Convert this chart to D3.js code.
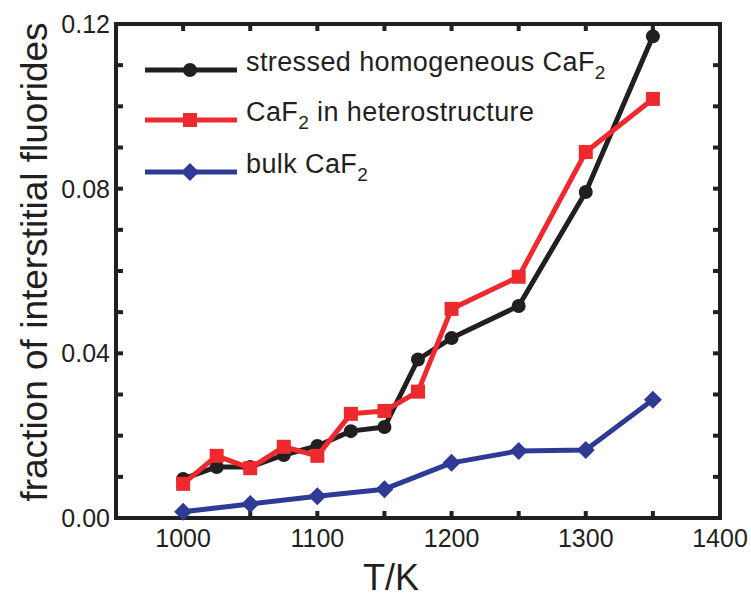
<!DOCTYPE html>
<html><head><meta charset="utf-8">
<script src="https://cdn.jsdelivr.net/npm/d3@7"></script>
<style>body{margin:0;background:#fff}text{font-family:"Liberation Sans",Arial,Helvetica,sans-serif;fill:#231f20}</style>
</head><body><svg id="c" width="751" height="598"></svg>
<script>
const tempsFine = [1000,1025,1050,1075,1100,1125,1150,1175,1200,1250,1300,1350];
const stressed = [0.0095,0.0124,0.0124,0.0153,0.0175,0.0211,0.0221,0.0385,0.0437,0.0515,0.0792,0.117];
const hetero   = [0.0083,0.0151,0.0121,0.0173,0.0151,0.0253,0.0260,0.0307,0.0508,0.0586,0.0889,0.1018];
const tempsBulk = [1000,1050,1100,1150,1200,1250,1300,1350];
const bulk = [0.0015,0.0034,0.0053,0.0070,0.0134,0.0163,0.0165,0.0287];
const xTickLabels = [1000,1100,1200,1300,1400];
const yTickLabels = [0.00,0.04,0.08,0.12];

const svg = d3.select("#c");
const L=116, R=720, T=24, B=518;
const x = d3.scaleLinear().domain([950,1400]).range([L,R]);
const y = d3.scaleLinear().domain([0,0.12]).range([B,T]);
const ink="#231f20";

const g = svg.append("g");
const xt = d3.range(1000,1400,50);
const yt = d3.range(1,12).map(i=>i*0.01);
const tl=7;
xt.forEach(v=>{
  g.append("line").attr("x1",x(v)).attr("x2",x(v)).attr("y1",B).attr("y2",B-tl).attr("stroke",ink).attr("stroke-width",4);
  g.append("line").attr("x1",x(v)).attr("x2",x(v)).attr("y1",T).attr("y2",T+tl).attr("stroke",ink).attr("stroke-width",4);
});
yt.forEach(v=>{
  g.append("line").attr("x1",L).attr("x2",L+tl).attr("y1",y(v)).attr("y2",y(v)).attr("stroke",ink).attr("stroke-width",4);
  g.append("line").attr("x1",R).attr("x2",R-tl).attr("y1",y(v)).attr("y2",y(v)).attr("stroke",ink).attr("stroke-width",4);
});
g.append("rect").attr("x",L).attr("y",T).attr("width",R-L).attr("height",B-T)
 .attr("fill","none").attr("stroke",ink).attr("stroke-width",4);

xTickLabels.forEach(v=>{
  svg.append("text").attr("x",x(v)).attr("y",547).attr("text-anchor","middle")
    .attr("font-size",25).text(v);
});
yTickLabels.forEach(v=>{
  svg.append("text").attr("x",110).attr("y",y(v)+9).attr("text-anchor","end")
    .attr("font-size",25).text(d3.format(".2f")(v));
});

svg.append("text").attr("x",391).attr("y",590).attr("text-anchor","middle").attr("font-size",36).text("T/K");
svg.append("text").attr("transform","translate(47,262) rotate(-90)").attr("text-anchor","middle")
  .attr("font-size",37).text("fraction of interstitial fluorides");

const line = d3.line().x(d=>x(d[0])).y(d=>y(d[1]));
const series = [
  {t:tempsFine, v:stressed, color:"#231f20", shape:"circle"},
  {t:tempsFine, v:hetero, color:"#ee2a2e", shape:"square"},
  {t:tempsBulk, v:bulk, color:"#2e3a96", shape:"diamond"}
];
function marker(sel, shape, color, cx, cy){
  if(shape==="circle") sel.append("circle").attr("cx",cx).attr("cy",cy).attr("r",7).attr("fill",color);
  else if(shape==="square") sel.append("rect").attr("x",cx-7).attr("y",cy-7).attr("width",14).attr("height",14).attr("fill",color);
  else sel.append("path").attr("d",`M${cx},${cy-9}L${cx+9},${cy}L${cx},${cy+9}L${cx-9},${cy}Z`).attr("fill",color);
}
[series[2],series[0],series[1]].forEach(s=>{
  const pts = s.t.map((t,i)=>[t,s.v[i]]);
  svg.append("path").attr("d",line(pts)).attr("fill","none").attr("stroke",s.color).attr("stroke-width",5).attr("stroke-linejoin","round");
  pts.forEach(p=>marker(svg,s.shape,s.color,x(p[0]),y(p[1])));
});

const legendItems = [
  {s:series[0], ly:70, parts:[["stressed homogeneous CaF",false],["2",true]]},
  {s:series[1], ly:120, parts:[["CaF",false],["2",true],[" in heterostructure",false]]},
  {s:series[2], ly:172, parts:[["bulk CaF",false],["2",true]]}
];
legendItems.forEach(it=>{
  svg.append("line").attr("x1",145).attr("x2",237).attr("y1",it.ly).attr("y2",it.ly).attr("stroke",it.s.color).attr("stroke-width",5);
  marker(svg,it.s.shape,it.s.color,190,it.ly);
  const t = svg.append("text").attr("x",246).attr("y",it.ly+9).attr("font-size",27).attr("letter-spacing",0.4);
  it.parts.forEach(p=>{
    if(p[1]) t.append("tspan").attr("font-size",19).attr("dy",8).text(p[0]);
    else t.append("tspan").attr("dy", t.selectAll("tspan").size()? -8:0).text(p[0]);
  });
});
</script></body></html>
